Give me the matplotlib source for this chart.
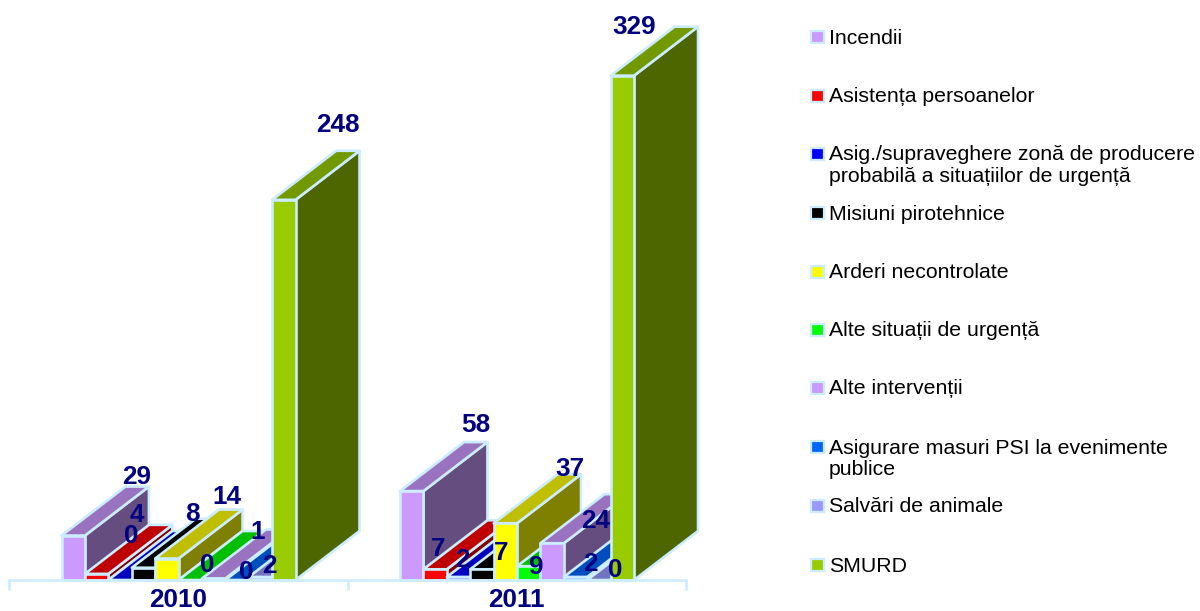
import matplotlib
matplotlib.use("Agg")
import matplotlib.pyplot as plt
from matplotlib.patches import Polygon, Rectangle

plt.rcParams['font.family'] = ['Liberation Sans', 'DejaVu Sans']

years = ['2010', '2011']
series = ['Incendii', 'Asistența persoanelor',
          'Asig./supraveghere zonă de producere\nprobabilă a situațiilor de urgență',
          'Misiuni pirotehnice', 'Arderi necontrolate', 'Alte situații de urgență',
          'Alte intervenții', 'Asigurare masuri PSI la evenimente\npublice',
          'Salvări de animale', 'SMURD']
values_2010 = [29, 4, 0, 8, 14, 0, 1, 0, 2, 248]
values_2011 = [58, 7, 2, 7, 37, 9, 24, 2, 0, 329]

# styling
colors = ['#CC99FF', '#FF0000', '#0000FF', '#000000', '#FFFF00',
          '#00FF00', '#CC99FF', '#0066FF', '#9999FF', '#99CC00']
EDGE = '#CCECFF'
NAVY = '#000080'
W, H = 1200, 611
X_LEFT, X_RIGHT, Y_BASE = 9, 686, 580
PX_PER_UNIT = 1.533
BAR_PX, DEPTH_X_PX, DEPTH_Y_PX = 23.4, 64, 49
SHIFT_PX = 0.3
# manual label placement (pixels from the bar's front top-left corner)
label_off = [
    [(75, 58.5), (51.6, 58.9), (23.2, 44), (60.8, 53.7), (71.4, 61.5),
     (29, 15), (55.6, 46.5), (21.2, 8), (20.8, 11), (65.4, 74.8)],
    [(76, 66.1), (14.6, 20.3), (15.2, 17), (30.8, 16.3), (76.4, 54.3),
     (18, -0.8), (55.6, 22.2), (26.2, 13), (27.8, 10), (23.4, 48.7)],
]


def shade(c, f):
    r, g, b = matplotlib.colors.to_rgb(c)
    return (r * f, g * f, b * f)


fig = plt.figure(figsize=(W / 100, H / 100), dpi=100, facecolor='white')
ax = fig.add_axes([X_LEFT / W, (H - Y_BASE) / H, (X_RIGHT - X_LEFT) / W, Y_BASE / H])
group_px = (X_RIGHT - X_LEFT) / 2
ax.set_xlim(-0.5, 1.5)
ax.set_ylim(0, Y_BASE / PX_PER_UNIT)
bw = BAR_PX / group_px
dx = DEPTH_X_PX / group_px
dy = DEPTH_Y_PX / PX_PER_UNIT
shift = SHIFT_PX / group_px

for g, vals in enumerate([values_2010, values_2011]):
    for i, v in enumerate(vals):
        x0 = g + (i - 5) * bw + shift
        x1 = x0 + bw
        c = colors[i]
        style = dict(edgecolor=EDGE, linewidth=1.9, joinstyle='round', clip_on=False, zorder=2 + i * 0.01)
        ax.add_patch(Polygon([(x1, 0), (x1 + dx, dy), (x1 + dx, v + dy), (x1, v)],
                             facecolor=shade(c, 0.5), **style))
        ax.add_patch(Polygon([(x0, v), (x0 + dx, v + dy), (x1 + dx, v + dy), (x1, v)],
                             facecolor=shade(c, 0.75), **style))
        ax.add_patch(Rectangle((x0, 0), bw, v, facecolor=c, **style))
        ox, oy = label_off[g][i]
        ax.annotate(str(v), xy=(x0, v), xytext=(ox, oy), textcoords='offset pixels',
                    ha='center', va='center', fontsize=18.8, fontweight='bold',
                    color=NAVY, zorder=5, annotation_clip=False)

for s in ['top', 'left', 'right']:
    ax.spines[s].set_visible(False)
ax.spines['bottom'].set_color(EDGE)
ax.spines['bottom'].set_linewidth(1.9)
ax.spines['bottom'].set_zorder(4)
ax.patch.set_alpha(0)
ax.set_yticks([])
ax.set_xticks([-0.5, 0.5, 1.5])
ax.set_xticklabels([])
ax.set_xticks([0, 1], minor=True)
ax.set_xticklabels(years, minor=True, fontsize=18.8, fontweight='bold', color=NAVY)
ax.tick_params(axis='x', which='major', length=7.5, width=1.9, color=EDGE)
ax.tick_params(axis='x', which='minor', length=0, pad=6)

# legend
legend_y = [37, 96, 154, 213, 272, 330, 388, 447, 506, 565]
for name, c, y in zip(series, colors, legend_y):
    fig.add_artist(Rectangle((811 / W, 1 - (y + 6.2) / H), 13 / W, 12.4 / H, transform=fig.transFigure,
                             facecolor=c, edgecolor=EDGE, linewidth=1.6))
    fig.text(829 / W, 1 - (y - 8.5) / H, name, fontsize=15.3, color='black', ha='left', va='top',
             linespacing=1.18)

fig.savefig('out.png', dpi=100)
